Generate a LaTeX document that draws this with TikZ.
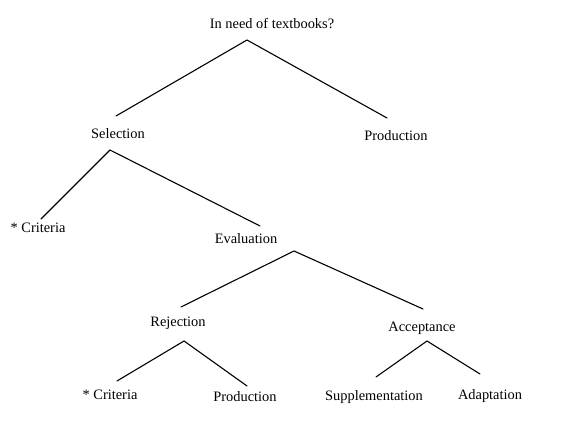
\documentclass[tikz,border=0pt]{standalone}
\usepackage{fontspec}
\setmainfont{Liberation Serif}
\begin{document}
\begin{tikzpicture}[x=1pt,y=-1pt,
  lbl/.style={inner sep=0pt,font=\fontsize{14.4}{15}\selectfont},
  branch/.style={line width=1.1pt,line cap=round,line join=miter}]
\useasboundingbox (0,0) rectangle (587,427);
% labels
\node[lbl] (root) at (272,24) {In need of textbooks?};
\node[lbl] (sel) at (118,134) {Selection};
\node[lbl] (prod1) at (396,136) {Production};
\node[lbl] (crit1) at (38,228) {* Criteria};
\node[lbl] (eval) at (246,239) {Evaluation};
\node[lbl] (rej) at (178,323) {Rejection};
\node[lbl] (acc) at (422,328) {Acceptance};
\node[lbl] (crit2) at (110,395) {* Criteria};
\node[lbl] (prod2) at (245,397) {Production};
\node[lbl] (supp) at (374,397) {Supplementation};
\node[lbl] (adap) at (490,396) {Adaptation};
% branch points
\coordinate (a0) at (247,40);
\coordinate (a0l) at (116,116);
\coordinate (a0r) at (387,118);
\coordinate (a1) at (110,150);
\coordinate (a1l) at (41,219);
\coordinate (a1r) at (260,226);
\coordinate (a2) at (294,251);
\coordinate (a2l) at (181,307);
\coordinate (a2r) at (423,309);
\coordinate (a3) at (184,341);
\coordinate (a3l) at (117,381);
\coordinate (a3r) at (247,386);
\coordinate (a4) at (427,341);
\coordinate (a4l) at (376,377);
\coordinate (a4r) at (480,374);
% connectors
\draw[branch] (a0l) -- (a0) -- (a0r);
\draw[branch] (a1l) -- (a1) -- (a1r);
\draw[branch] (a2l) -- (a2) -- (a2r);
\draw[branch] (a3l) -- (a3) -- (a3r);
\draw[branch] (a4l) -- (a4) -- (a4r);
\end{tikzpicture}
\end{document}
